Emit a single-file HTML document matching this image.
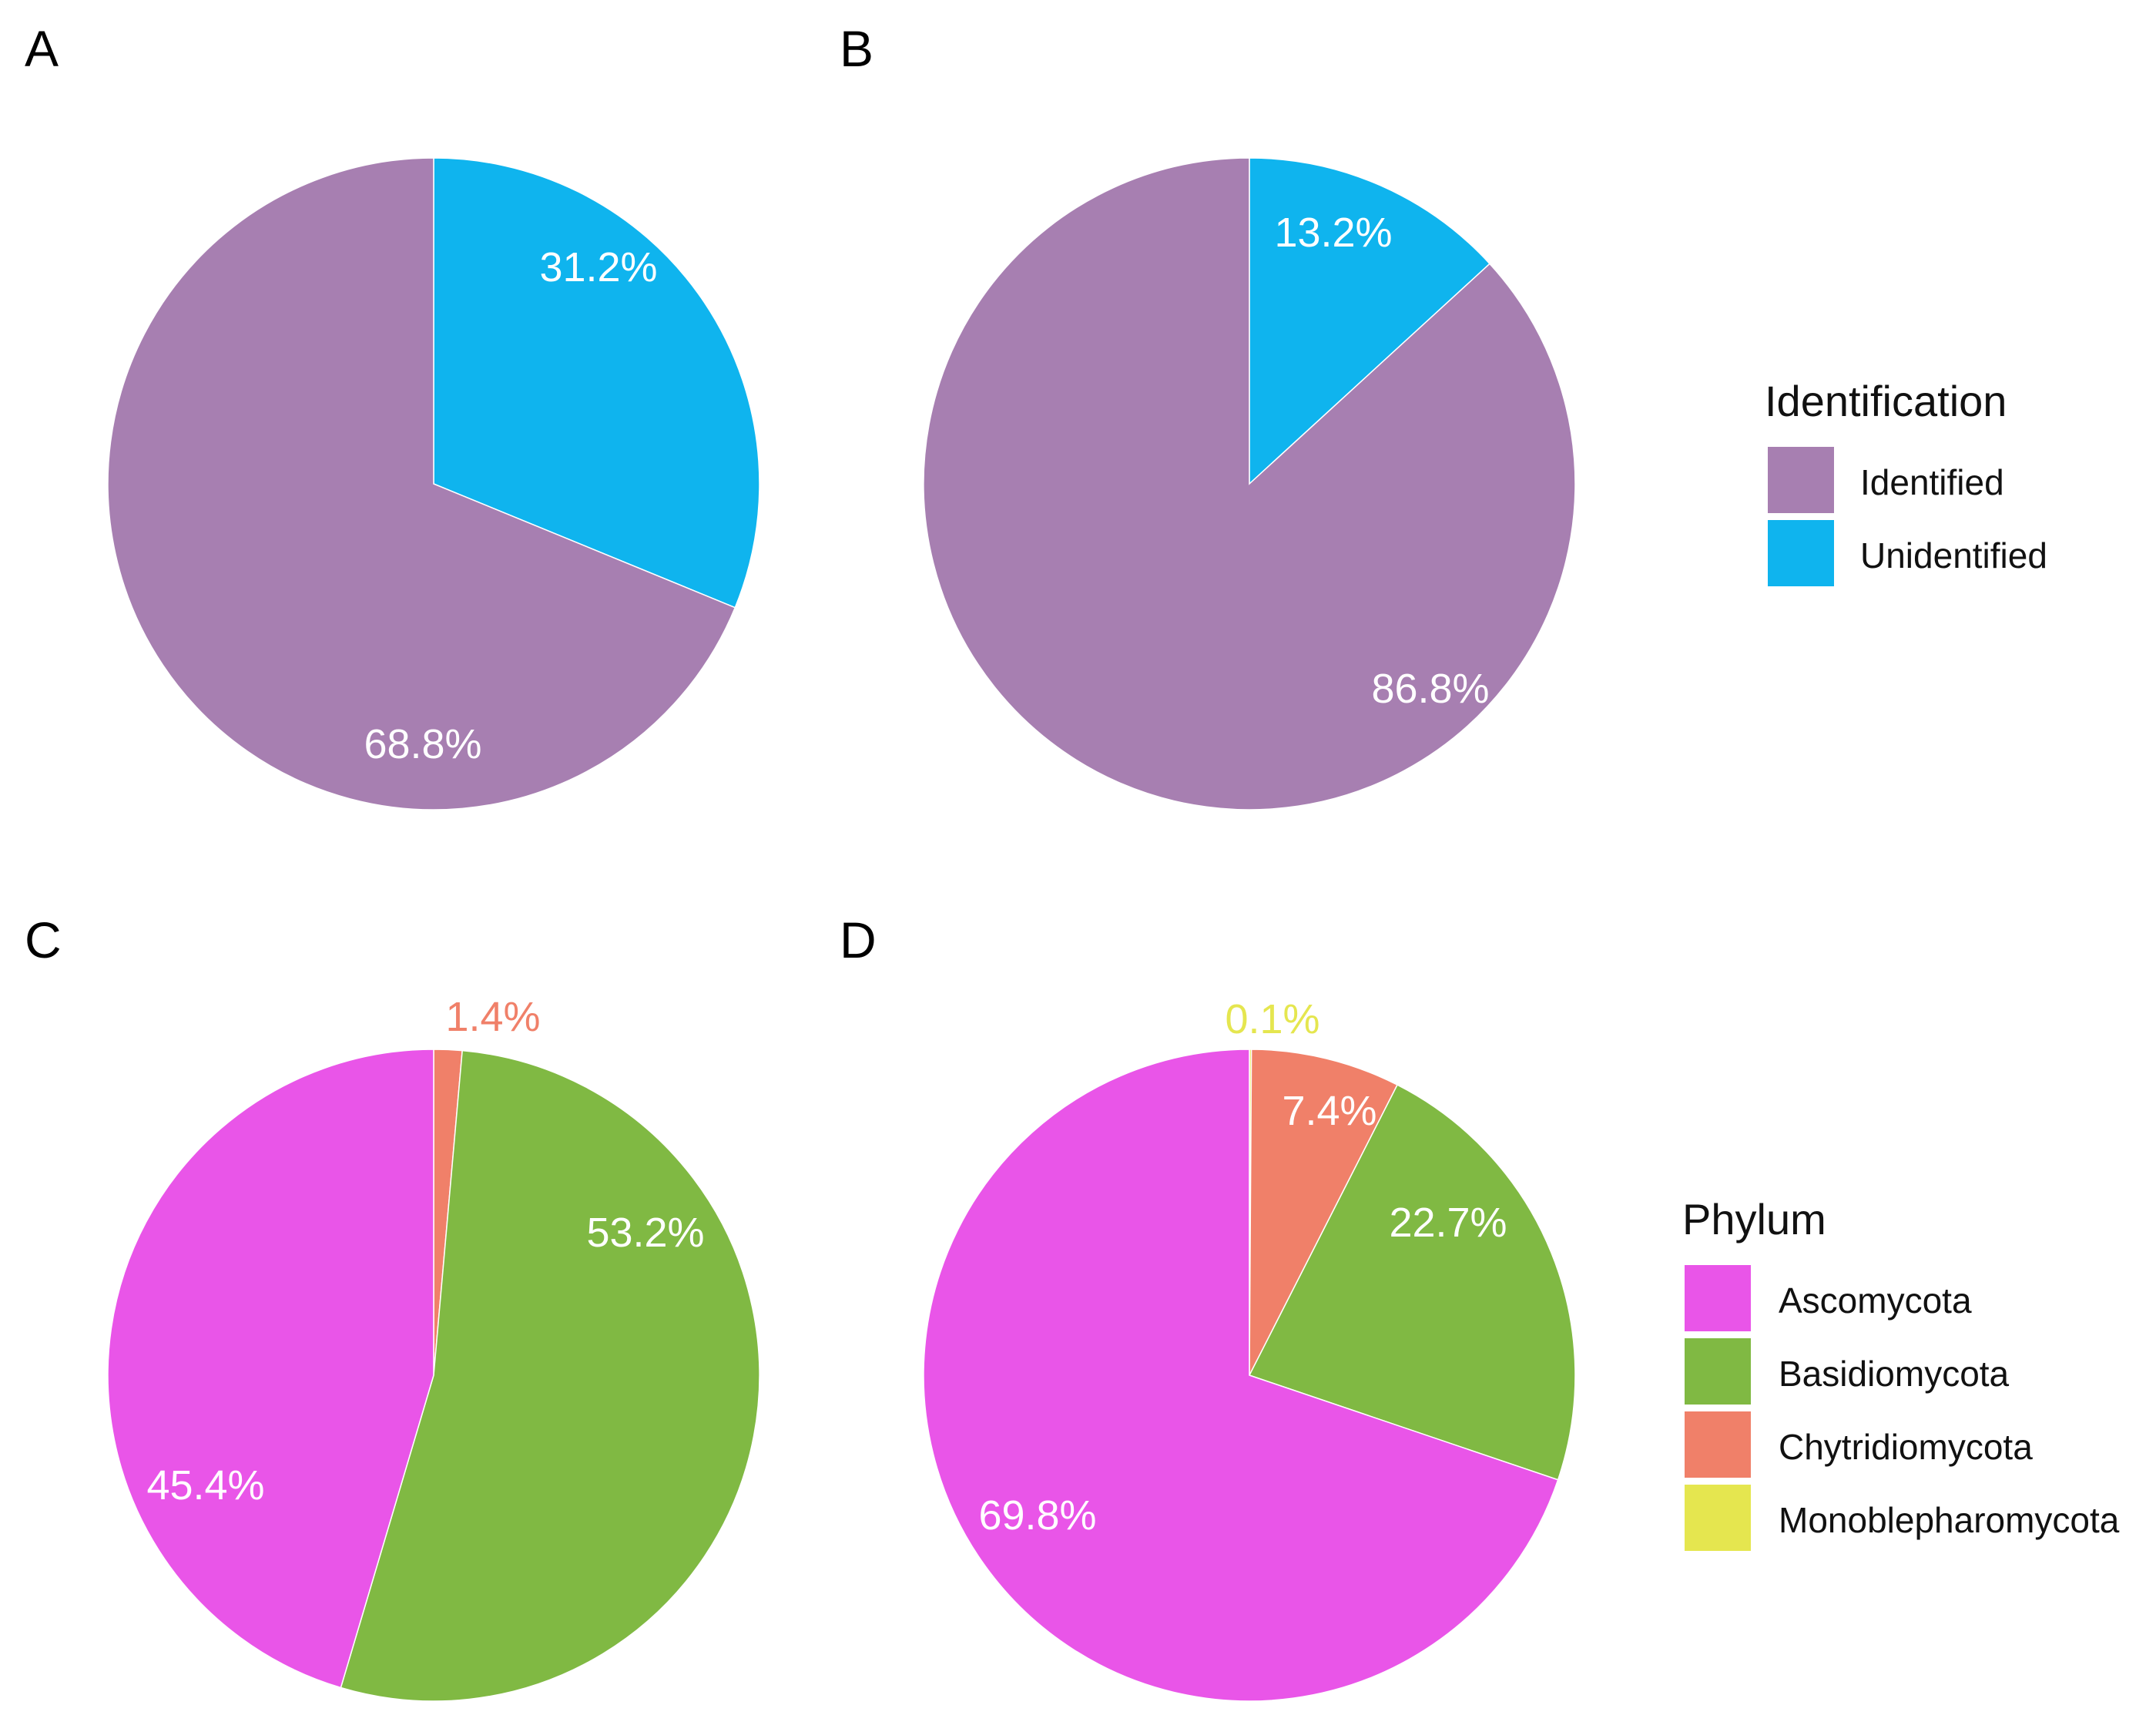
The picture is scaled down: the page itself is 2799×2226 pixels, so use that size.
<!DOCTYPE html>
<html><head><meta charset="utf-8"><style>
html,body{margin:0;padding:0;background:#fff}
svg{display:block}
text{font-family:"Liberation Sans",sans-serif}
</style></head><body>
<svg id="chart" width="2799" height="2226" viewBox="0 0 2799 2226" xmlns="http://www.w3.org/2000/svg">
<text x="32" y="86" font-size="66">A</text>
<text x="1090" y="86" font-size="66">B</text>
<text x="32" y="1243" font-size="66">C</text>
<text x="1090" y="1243" font-size="66">D</text>
<g id="pies"></g>
<g>
<text x="2291" y="540" font-size="56" fill="#111">Identification</text>
<rect x="2295" y="580" width="86" height="86" fill="#A77FB1"/>
<text x="2415" y="642" font-size="46" fill="#111">Identified</text>
<rect x="2295" y="675" width="86" height="86" fill="#0FB4EE"/>
<text x="2415" y="737" font-size="46" fill="#111">Unidentified</text>
</g>
<g>
<text x="2184" y="1602" font-size="56" fill="#111">Phylum</text>
<rect x="2187" y="1642" width="86" height="86" fill="#E955E8"/>
<text x="2309" y="1704" font-size="46" fill="#111">Ascomycota</text>
<rect x="2187" y="1737" width="86" height="86" fill="#80B943"/>
<text x="2309" y="1799" font-size="46" fill="#111">Basidiomycota</text>
<rect x="2187" y="1832" width="86" height="86" fill="#F08069"/>
<text x="2309" y="1894" font-size="46" fill="#111">Chytridiomycota</text>
<rect x="2187" y="1927" width="86" height="86" fill="#E5E64F"/>
<text x="2309" y="1989" font-size="46" fill="#111">Monoblepharomycota</text>
</g>
</svg>
<script>
// Data (clockwise from 12 o'clock)
const pieANames = ["Unidentified","Identified"];
const pieAValues = [31.2, 68.8];
const pieBNames = ["Unidentified","Identified"];
const pieBValues = [13.2, 86.8];
const pieCNames = ["Chytridiomycota","Basidiomycota","Ascomycota"];
const pieCValues = [1.4, 53.2, 45.4];
const pieDNames = ["Monoblepharomycota","Chytridiomycota","Basidiomycota","Ascomycota"];
const pieDValues = [0.1, 7.4, 22.7, 69.8];

const colors = {Identified:"#A77FB1",Unidentified:"#0FB4EE",Ascomycota:"#E955E8",Basidiomycota:"#80B943",Chytridiomycota:"#F08069",Monoblepharomycota:"#E5E64F"};
// label offsets from pie centre (layout, not data)
const layout = [
 {id:"a",cx:563,cy:628,names:pieANames,vals:pieAValues,lab:[[214,-282],[-14,337]],lc:["#fff","#fff"]},
 {id:"b",cx:1622,cy:628,names:pieBNames,vals:pieBValues,lab:[[109,-327],[235,265]],lc:["#fff","#fff"]},
 {id:"c",cx:563,cy:1785,names:pieCNames,vals:pieCValues,lab:[[77,-466],[275,-186],[-296,142]],lc:["#F08069","#fff","#fff"]},
 {id:"d",cx:1622,cy:1785,names:pieDNames,vals:pieDValues,lab:[[30,-463],[104,-344],[258,-199],[-275,181]],lc:["#E5E64F","#fff","#fff","#fff"]}
];
const R = 423;
const NS = "http://www.w3.org/2000/svg";
const g = document.getElementById("pies");
function pt(cx,cy,a){return [cx+R*Math.sin(a), cy-R*Math.cos(a)];}
layout.forEach(p=>{
  const total = p.vals.reduce((s,v)=>s+v,0);
  let start = 0;
  p.vals.forEach((v,i)=>{
    const sweep = v/total*2*Math.PI;
    const end = start+sweep;
    const [x1,y1]=pt(p.cx,p.cy,start), [x2,y2]=pt(p.cx,p.cy,end);
    const large = sweep>Math.PI?1:0;
    const path = document.createElementNS(NS,"path");
    path.setAttribute("d",`M${p.cx},${p.cy} L${x1},${y1} A${R},${R} 0 ${large} 1 ${x2},${y2} Z`);
    path.setAttribute("fill",colors[p.names[i]]);
    path.setAttribute("stroke","#fff");
    path.setAttribute("stroke-width","1.5");
    
    
    g.appendChild(path);
    start = end;
  });
  p.vals.forEach((v,i)=>{
    const t = document.createElementNS(NS,"text");
    t.setAttribute("x",p.cx+p.lab[i][0]);
    t.setAttribute("y",p.cy+p.lab[i][1]+19);
    t.setAttribute("text-anchor","middle");
    t.setAttribute("font-size","54");
    t.setAttribute("fill",p.lc[i]);
    t.textContent = v.toFixed(1)+"%";
    
    
    g.appendChild(t);
  });
});
</script>
</body></html>
